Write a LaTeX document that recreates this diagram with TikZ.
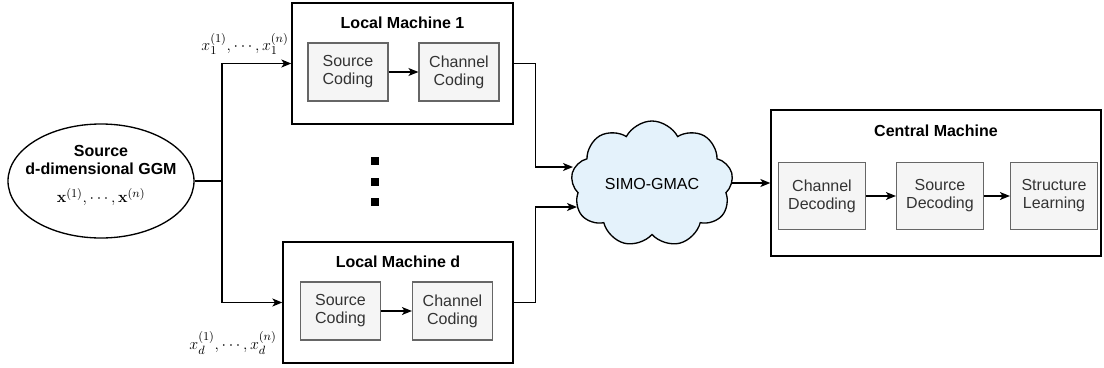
\documentclass[tikz,border=0pt]{standalone}
\usepackage[no-math]{fontspec}
\setmainfont{Liberation Sans}
\usetikzlibrary{shapes.geometric,shapes.symbols,arrows.meta}
\definecolor{boxfill}{HTML}{F5F5F5}
\definecolor{boxline}{HTML}{666666}
\definecolor{boxtext}{HTML}{333333}
\definecolor{cloudfill}{HTML}{E4F2FB}
\tikzset{
  machine/.style={draw=black,fill=white,line width=1pt,inner sep=0pt},
  stage/.style={draw=boxline,fill=boxfill,text=boxtext,align=center,line width=0.9pt,
    minimum width=60pt,minimum height=43.5pt,inner sep=0pt,font=\fontsize{12pt}{13.5pt}\selectfont},
  wide stage/.style={stage,minimum width=65.25pt,minimum height=50.25pt},
  title/.style={font=\fontsize{12pt}{13.5pt}\selectfont\bfseries,align=center},
  mathlbl/.style={font=\fontsize{13pt}{15pt}\selectfont,inner sep=0pt},
  arr/.style={line width=1pt,-{Stealth[length=7.5pt,width=6pt,inset=2pt]}},
  wire/.style={line width=1pt},
  vdot/.style={fill=black,minimum size=6pt,inner sep=0pt}
}
\begin{document}
\begin{tikzpicture}[x=0.75pt,y=-0.75pt]
\useasboundingbox (0,0) rectangle (1104,368);
% source
\node[ellipse,draw,line width=1pt,minimum width=139.5pt,minimum height=85.5pt] (src) at (101,181) {};
\node[title] (srctitle) at (101,160) {Source\\d-dimensional GGM};
\node[mathlbl] (srcdata) at (101,197) {$\mathbf{x}^{(1)},\cdots,\mathbf{x}^{(n)}$};
\coordinate (split) at (222,181);
% local machines
\node[machine,minimum width=165.75pt,minimum height=90.75pt] (lm1) at (402.5,63.5) {};
\node[title] (lm1title) at (402.5,23) {Local Machine 1};
\node[stage] (sc1) at (348,72) {Source\\Coding};
\node[stage] (cc1) at (459,72) {Channel\\Coding};
\node[machine,minimum width=172.5pt,minimum height=90.75pt] (lmd) at (398,302.5) {};
\node[title] (lmdtitle) at (398,262) {Local Machine d};
\node[stage] (scd) at (340.5,311) {Source\\Coding};
\node[stage] (ccd) at (452.5,311) {Channel\\Coding};
\node[vdot] (dot1) at (375,161) {};
\node[vdot] (dot2) at (375,182) {};
\node[vdot] (dot3) at (375,202) {};
\node[mathlbl] (lbl1) at (245,44) {$x_1^{(1)},\cdots,x_1^{(n)}$};
\node[mathlbl] (lbld) at (233,343) {$x_d^{(1)},\cdots,x_d^{(n)}$};
% channel
\node[cloud,draw,fill=cloudfill,line width=1pt,cloud puffs=9,cloud puff arc=125,
  cloud ignores aspect,minimum width=121.5pt,minimum height=94.5pt,inner sep=0pt,
  font=\fontsize{12pt}{13.5pt}\selectfont] (mac) at (652,184) {SIMO-GMAC};
\coordinate (macin1) at (573,167);
\coordinate (macin2) at (577,207);
% central machine
\node[machine,minimum width=247.5pt,minimum height=109.5pt] (cm) at (936,183) {};
\node[title] (cmtitle) at (936,131) {Central Machine};
\node[wide stage] (cd) at (822,196) {Channel\\Decoding};
\node[wide stage] (sd) at (940,196) {Source\\Decoding};
\node[wide stage] (sl) at (1054,196) {Structure\\Learning};
% connectors
\draw[wire] (src.east) -- (split);
\draw[arr] (split) |- (lm1.west);
\draw[arr] (split) |- (lmd.west);
\draw[arr] (sc1) -- (cc1);
\draw[arr] (scd) -- (ccd);
\draw[arr] (lm1.east) -- ++(22,0) |- (macin1);
\draw[arr] (lmd.east) -- ++(22,0) |- (macin2);
\draw[arr] (mac.east |- cm.west) -- (cm.west);
\draw[arr] (cd) -- (sd);
\draw[arr] (sd) -- (sl);
\end{tikzpicture}
\end{document}
